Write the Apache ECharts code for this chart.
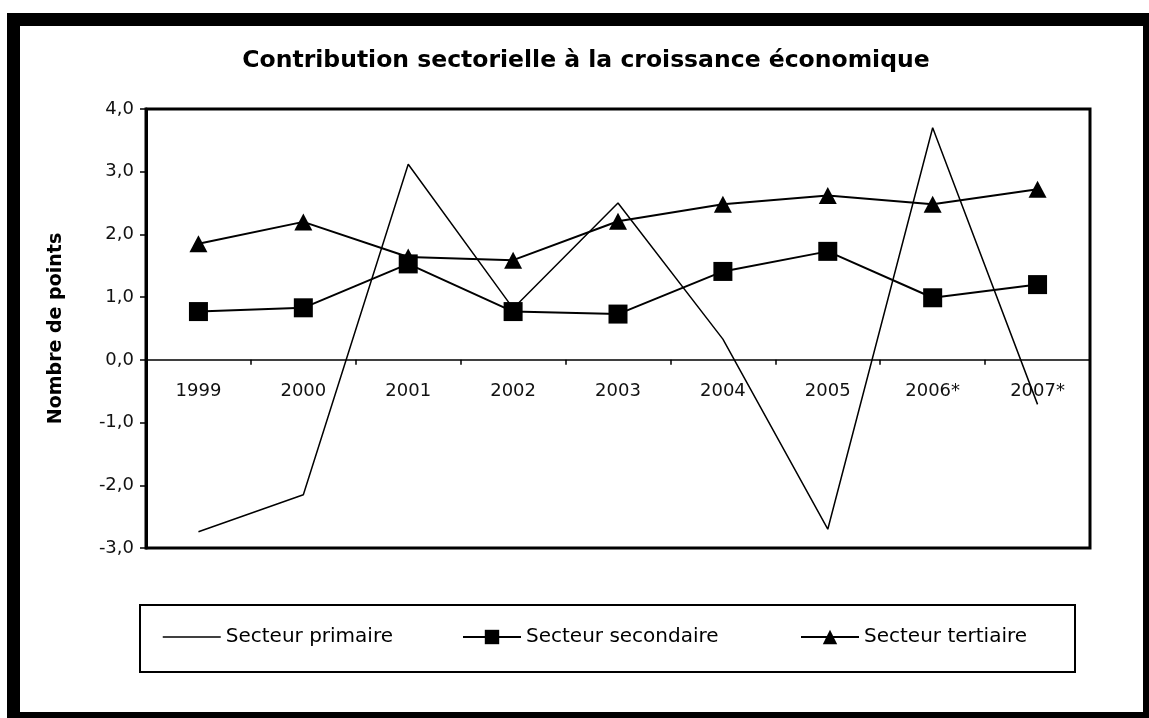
<!DOCTYPE html>
<html>
<head>
<meta charset="utf-8">
<script src="https://cdn.jsdelivr.net/npm/echarts@6/dist/echarts.min.js"></script>
<style>
html,body{margin:0;padding:0;background:#fff;}
#c{width:1149px;height:718px;}
</style>
</head>
<body>
<div id="c"></div>
<script>
const categories = ['1999','2000','2001','2002','2003','2004','2005','2006*','2007*'];
const primaire   = [-2.74, -2.15, 3.12, 0.82, 2.5, 0.33, -2.7, 3.7, -0.71];
const secondaire = [0.77, 0.83, 1.53, 0.77, 0.73, 1.41, 1.73, 0.99, 1.2];
const tertiaire  = [1.85, 2.2, 1.64, 1.59, 2.21, 2.48, 2.62, 2.48, 2.72];
const seriesNames = ['Secteur primaire', 'Secteur secondaire', 'Secteur tertiaire'];
const yTicks = { min: -3, max: 4, interval: 1 };

const FONT = 'DejaVu Sans';
const GRID = {left: 146, right: 59, top: 109, bottom: 170};
const plotH = 718 - GRID.top - GRID.bottom;
const zeroOffset = -plotH * (0 - yTicks.min) / (yTicks.max - yTicks.min);

const chart = echarts.init(document.getElementById('c'), null, {renderer: 'canvas'});
const legendText = {fontFamily: FONT, fontSize: 20, color: '#000'};
chart.setOption({
  backgroundColor: '#fff',
  animation: false,
  title: {
    text: 'Contribution sectorielle à la croissance économique',
    left: 581, top: 44, textAlign: 'center',
    textStyle: {fontFamily: FONT, fontWeight: 'bold', fontSize: 23.5, color: '#000'}
  },
  graphic: [
    {type: 'rect', z: -100, shape: {x: 7, y: 13, width: 1142, height: 705}, style: {fill: '#000'}},
    {type: 'rect', z: -99, shape: {x: 20, y: 26, width: 1123, height: 686}, style: {fill: '#fff'}},
    {type: 'rect', z: -98, shape: {x: 140, y: 605, width: 935, height: 67}, style: {fill: '#fff', stroke: '#000', lineWidth: 2}}
  ],
  legend: [
    {data: [seriesNames[0]], left: 162, top: 627, padding: 0, itemWidth: 58, itemHeight: 18,
      itemStyle: {opacity: 0}, lineStyle: {color: '#000', width: 1.5, opacity: 1}, textStyle: legendText},
    {data: [seriesNames[1]], left: 462, top: 627, padding: 0, itemWidth: 58, itemHeight: 18, textStyle: legendText},
    {data: [seriesNames[2]], left: 800, top: 627, padding: 0, itemWidth: 58, itemHeight: 18, textStyle: legendText}
  ],
  grid: Object.assign({show: true, borderColor: '#000', borderWidth: 3, backgroundColor: 'transparent'}, GRID),
  xAxis: {
    type: 'category', data: categories, boundaryGap: true, position: 'bottom', offset: zeroOffset,
    axisLine: {onZero: false, lineStyle: {color: '#000', width: 1.5}},
    axisTick: {show: true, length: 5, interval: 0, lineStyle: {color: '#000', width: 1.5}},
    axisLabel: {margin: 22, interval: 0, fontFamily: FONT, fontSize: 18, color: '#111'},
    splitLine: {show: false}
  },
  yAxis: {
    type: 'value', min: yTicks.min, max: yTicks.max, interval: yTicks.interval,
    name: 'Nombre de points', nameLocation: 'middle', nameGap: 80, nameRotate: 90,
    nameTextStyle: {fontFamily: FONT, fontWeight: 'bold', fontSize: 19, color: '#000'},
    axisLine: {show: true, lineStyle: {color: '#000', width: 3}},
    axisTick: {show: true, length: 6, lineStyle: {color: '#000', width: 1.5}},
    axisLabel: {margin: 12, fontFamily: FONT, fontSize: 18, color: '#111',
      formatter: v => v.toFixed(1).replace('.', ',')},
    splitLine: {show: false}
  },
  series: [
    {name: seriesNames[0], type: 'line', data: primaire, symbol: 'none', showSymbol: false,
      lineStyle: {color: '#000', width: 1.5}, itemStyle: {color: '#000'}, z: 2},
    {name: seriesNames[1], type: 'line', data: secondaire, symbol: 'rect', symbolSize: 19,
      lineStyle: {color: '#000', width: 2}, itemStyle: {color: '#000'}, z: 3},
    {name: seriesNames[2], type: 'line', data: tertiaire, symbol: 'triangle', symbolSize: [18, 17],
      lineStyle: {color: '#000', width: 2}, itemStyle: {color: '#000'}, z: 4}
  ]
});
</script>
</body>
</html>
